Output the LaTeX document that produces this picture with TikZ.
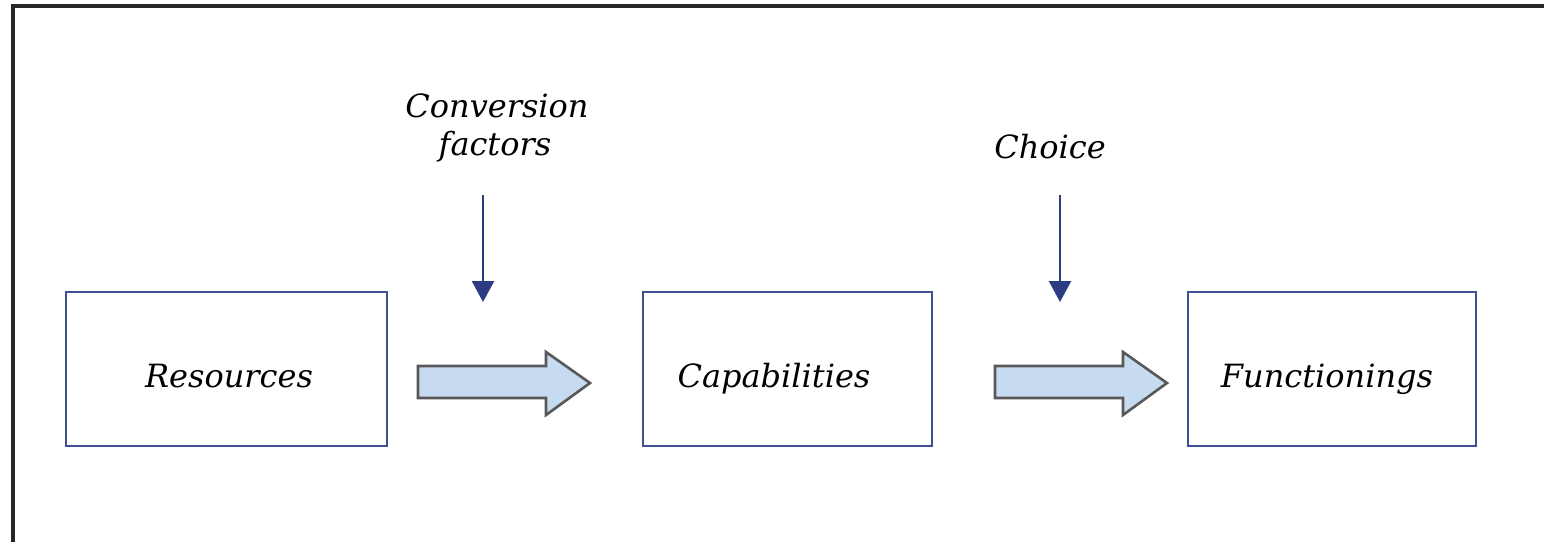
\documentclass[tikz,border=0pt]{standalone}
\usepackage{fontspec}
\setmainfont{DejaVu Serif}
\usetikzlibrary{arrows.meta}
\definecolor{boxblue}{HTML}{3F5093}
\definecolor{navy}{HTML}{2C3C83}
\definecolor{arrfill}{HTML}{C6DBEF}
\definecolor{arredge}{HTML}{585858}
\tikzset{
  box/.style={draw=boxblue, line width=2.6pt, minimum height=154pt, inner sep=0pt},
  lbl/.style={font=\fontsize{32}{38}\selectfont\itshape, inner sep=0pt, anchor=base},
  downarrow/.style={draw=navy, line width=2.4pt, -{Triangle[width=22pt,length=21pt]}},
  blockarrow/.style={draw=arredge, fill=arrfill, line width=2.6pt, line join=miter}
}
\begin{document}
\begin{tikzpicture}[x=1pt,y=-1pt]
\useasboundingbox (0,0) rectangle (1544,541);
\clip (0,0) rectangle (1544,541);
\fill[white] (0,0) rectangle (1544,541);
% outer frame
\draw[line width=3.5pt, black!85] (13,6) rectangle (1570,570);
% boxes
\node[box, minimum width=321pt] (res) at (226.5,369) {};
\node[box, minimum width=289pt] (cap) at (787.5,369) {};
\node[box, minimum width=288pt] (fun) at (1332,369) {};
\node[lbl] (reslbl) at (229,387) {Resources};
\node[lbl] (caplbl) at (774,387) {Capabilities};
\node[lbl] (funlbl) at (1327,387) {Functionings};
% top labels
\node[lbl] (conv) at (497,117) {Conversion};
\node[lbl] (fact) at (495,155) {factors};
\node[lbl] (choice) at (1050,158) {Choice};
% down arrows
\coordinate (d1s) at (483,195);
\coordinate (d1e) at (483,302);
\coordinate (d2s) at (1060,195);
\coordinate (d2e) at (1060,302);
\draw[downarrow] (d1s) -- (d1e);
\draw[downarrow] (d2s) -- (d2e);
% block arrows
\draw[blockarrow] (418,366) -- (546,366) -- (546,352) -- (590,383) -- (546,415) -- (546,398) -- (418,398) -- cycle;
\draw[blockarrow] (995,366) -- (1123,366) -- (1123,352) -- (1167,383) -- (1123,415) -- (1123,398) -- (995,398) -- cycle;
\end{tikzpicture}
\end{document}
